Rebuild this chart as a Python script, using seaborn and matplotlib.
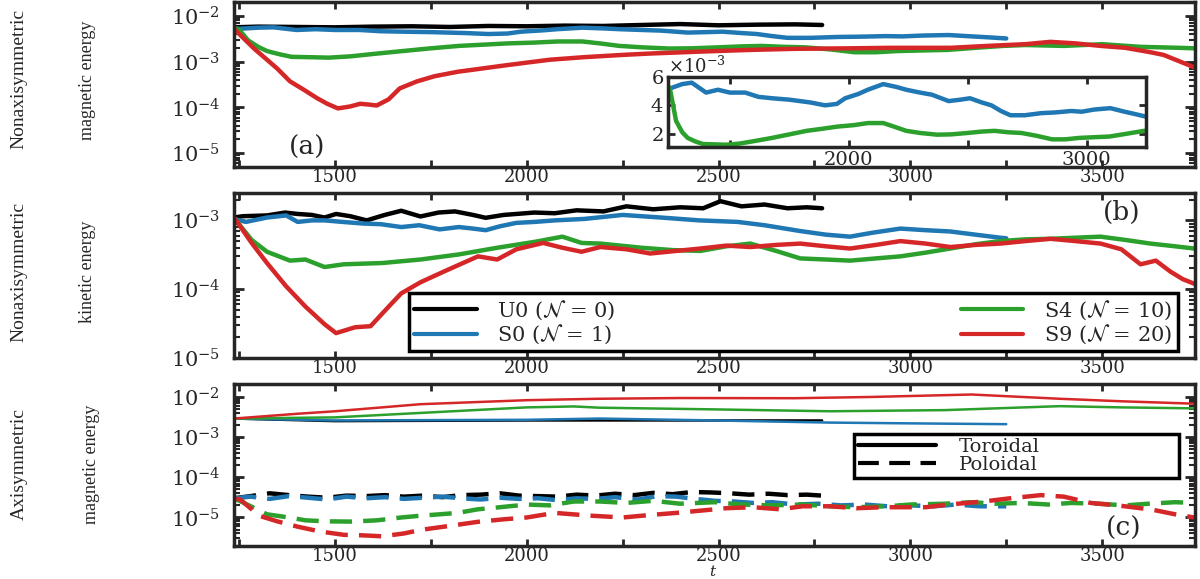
import numpy as np
import pandas as pd
import matplotlib
matplotlib.use("Agg")
import matplotlib.pyplot as plt
import matplotlib.ticker as mticker
from matplotlib.lines import Line2D
import seaborn as sns

# ---- values ----
# (a) nonaxisymmetric magnetic energy, units of 1e-3
t_a_u0 = [1237, 1300, 1400, 1500, 1600, 1700, 1800, 1900, 2000, 2100, 2200, 2300, 2400, 2500, 2600, 2700, 2770]
e_a_u0 = [5.6, 5.8, 5.7, 5.6, 5.8, 5.9, 5.7, 6.0, 5.9, 6.1, 6.0, 6.3, 6.6, 6.2, 6.4, 6.5, 6.3]
t_a_s0 = [1237, 1250, 1300, 1340, 1400, 1450, 1500, 1565, 1620, 1677, 1750, 1840, 1900, 1950, 1985, 2040, 2080,
          2145, 2200, 2242, 2300, 2350, 2420, 2470, 2510, 2560, 2600, 2640, 2680, 2740, 2810, 2870, 2935, 2980,
          3030, 3100, 3160, 3200, 3250]
e_a_s0 = [5.3, 5.2, 5.5, 5.6, 4.9, 5.1, 4.9, 4.9, 4.6, 4.5, 4.4, 4.2, 4.0, 4.1, 4.5, 4.8, 5.1,
          5.5, 5.3, 5.1, 4.9, 4.75, 4.3, 4.4, 4.5, 4.2, 4.0, 3.6, 3.3, 3.3, 3.45, 3.5, 3.6, 3.55,
          3.7, 3.8, 3.55, 3.4, 3.2]
t_a_s4 = [1237, 1250, 1274, 1300, 1323, 1355, 1387, 1430, 1484, 1540, 1597, 1677, 1750, 1823, 1890, 1952, 2020,
          2081, 2145, 2190, 2242, 2300, 2371, 2430, 2500, 2560, 2613, 2670, 2726, 2790, 2855, 2910, 2968, 3030,
          3097, 3170, 3242, 3300, 3400, 3500, 3600, 3700, 3740]
e_a_s4 = [5.5, 5.0, 2.9, 2.1, 1.7, 1.45, 1.27, 1.25, 1.22, 1.3, 1.46, 1.7, 1.95, 2.2, 2.35, 2.5, 2.6,
          2.75, 2.75, 2.5, 2.2, 2.05, 1.93, 1.95, 2.05, 2.15, 2.2, 2.1, 2.05, 1.85, 1.6, 1.6, 1.7, 1.75,
          1.8, 2.0, 2.2, 2.3, 2.2, 2.4, 2.1, 2.0, 1.95]
t_a_s9 = [1237, 1252, 1290, 1323, 1350, 1383, 1420, 1453, 1480, 1508, 1540, 1566, 1590, 1609, 1640, 1669, 1714,
          1760, 1820, 1880, 1931, 2000, 2061, 2150, 2250, 2322, 2450, 2583, 2700, 2844, 2950, 3105, 3200, 3300,
          3365, 3430, 3496, 3560, 3626, 3660, 3691, 3740]
e_a_s9 = [5.2, 3.9, 1.9, 1.1, 0.7, 0.37, 0.24, 0.16, 0.12, 0.095, 0.105, 0.12, 0.115, 0.11, 0.15, 0.26, 0.37,
          0.48, 0.6, 0.7, 0.8, 0.95, 1.1, 1.25, 1.4, 1.5, 1.65, 1.8, 1.9, 1.95, 2.0, 2.0, 2.2, 2.4,
          2.7, 2.5, 2.2, 2.0, 1.6, 1.4, 1.1, 0.75]

# (b) nonaxisymmetric kinetic energy, units of 1e-4
t_b_u0 = [1237, 1260, 1323, 1370, 1403, 1440, 1473, 1503, 1540, 1583, 1630, 1673, 1723, 1770, 1813, 1860, 1893,
          1940, 1973, 2020, 2073, 2130, 2200, 2260, 2330, 2400, 2460, 2505, 2560, 2620, 2680, 2730, 2770]
e_b_u0 = [11, 11.5, 11.8, 13, 12.4, 12, 11, 12.4, 11.5, 10, 12, 13.8, 11.4, 13, 13.5, 12, 10.9,
          12, 12.4, 13, 12.7, 14, 13.5, 16, 14.5, 15.5, 15, 19, 16, 17, 15, 15.5, 15]
t_b_s0 = [1237, 1268, 1323, 1373, 1403, 1440, 1473, 1520, 1573, 1620, 1673, 1720, 1773, 1823, 1860, 1893, 1930,
          1973, 2020, 2073, 2150, 2250, 2350, 2450, 2550, 2620, 2713, 2780, 2843, 2900, 2974, 3040, 3104,
          3170, 3234, 3250]
e_b_s0 = [10.5, 9.5, 11, 11.8, 9.5, 10, 10, 9.5, 9, 8.8, 8, 8.5, 7.4, 8, 7.6, 7.2, 8.2,
          9.2, 9.5, 10, 10.5, 12, 11, 10, 9.5, 8.5, 7, 6.2, 5.8, 6.6, 7.6, 7.2, 6.9,
          6.2, 5.6, 5.5]
t_b_s4 = [1237, 1260, 1283, 1323, 1383, 1423, 1473, 1523, 1623, 1723, 1823, 1923, 2023, 2093, 2143, 2192, 2300,
          2380, 2453, 2520, 2583, 2650, 2713, 2780, 2843, 2910, 2974, 3040, 3104, 3170, 3234, 3300, 3365,
          3430, 3496, 3560, 3626, 3690, 3740]
e_b_s4 = [11, 7.5, 5.2, 3.5, 2.6, 2.7, 2.1, 2.3, 2.4, 2.7, 3.2, 4.0, 4.9, 5.8, 4.7, 4.6, 4.0,
          3.7, 3.6, 4.2, 4.6, 3.6, 2.8, 2.7, 2.6, 2.8, 3.0, 3.4, 3.9, 4.5, 5.0, 5.3, 5.4,
          5.6, 5.8, 5.2, 4.6, 4.2, 3.9]
t_b_s9 = [1237, 1248, 1283, 1323, 1373, 1423, 1473, 1503, 1553, 1593, 1643, 1673, 1723, 1793, 1873, 1923, 1973,
          2043, 2093, 2143, 2192, 2260, 2322, 2390, 2453, 2520, 2583, 2650, 2713, 2780, 2843, 2910, 2974,
          3040, 3104, 3170, 3234, 3300, 3365, 3430, 3496, 3550, 3600, 3640, 3678, 3710, 3740]
e_b_s9 = [11, 9, 4.7, 2.4, 1.1, 0.56, 0.31, 0.23, 0.28, 0.29, 0.58, 0.87, 1.26, 1.9, 3.0, 2.7, 3.8,
          4.7, 4.0, 3.5, 4.1, 3.8, 3.3, 3.6, 3.9, 4.3, 4.1, 4.4, 4.6, 4.2, 3.9, 4.4, 5.0,
          4.6, 4.1, 4.4, 4.6, 5.0, 5.4, 5.0, 4.6, 3.8, 2.3, 2.6, 1.8, 1.4, 1.2]

# (c) axisymmetric magnetic energy: toroidal (units 1e-3), poloidal (units 1e-5)
t_tor_u0 = [1237, 1500, 2000, 2300, 2600, 2770]
e_tor_u0 = [2.9, 2.5, 2.6, 2.6, 2.6, 2.6]
t_tor_s0 = [1237, 1500, 2000, 2190, 2490, 2790, 3000, 3250]
e_tor_s0 = [2.9, 2.6, 2.7, 2.9, 2.6, 2.3, 2.2, 2.1]
t_tor_s4 = [1237, 1500, 1723, 2000, 2123, 2190, 2490, 2790, 3090, 3390, 3550, 3740]
e_tor_s4 = [2.9, 3.1, 4.0, 5.5, 5.8, 5.4, 4.9, 4.4, 4.7, 5.9, 5.5, 5.2]
t_tor_s9 = [1237, 1400, 1500, 1723, 2000, 2183, 2400, 2700, 2900, 3160, 3390, 3550, 3740]
e_tor_s9 = [2.9, 3.8, 4.4, 6.6, 8.3, 9.0, 9.4, 9.3, 10.0, 11.5, 9.0, 7.8, 6.8]

t_pol_u0 = [1237, 1280, 1330, 1380, 1430, 1480, 1530, 1580, 1630, 1680, 1730, 1780, 1830, 1880, 1930, 1980,
            2030, 2080, 2130, 2180, 2230, 2280, 2330, 2380, 2430, 2480, 2530, 2580, 2630, 2680, 2730, 2770]
e_pol_u0 = [3.0, 3.4, 4.0, 3.6, 3.3, 3.1, 3.5, 3.4, 3.6, 3.3, 3.5, 3.2, 3.6, 3.7, 4.0, 3.5,
            3.4, 3.3, 3.7, 3.5, 3.9, 3.6, 4.1, 3.8, 4.3, 4.2, 4.0, 3.7, 3.9, 3.6, 3.7, 3.5]
t_pol_s0 = [1237, 1280, 1330, 1380, 1430, 1480, 1530, 1580, 1630, 1680, 1730, 1780, 1830, 1880, 1930, 1980,
            2030, 2080, 2130, 2180, 2230, 2290, 2340, 2390, 2440, 2490, 2540, 2590, 2640, 2700, 2760, 2820,
            2880, 2940, 3000, 3060, 3120, 3180, 3250]
e_pol_s0 = [3.0, 3.3, 2.9, 3.4, 3.1, 2.8, 3.3, 3.0, 3.2, 2.9, 3.1, 3.3, 3.0, 2.8, 3.1, 2.9,
            3.0, 2.7, 3.0, 2.9, 3.2, 2.8, 3.4, 3.3, 2.9, 2.6, 2.5, 2.3, 2.4, 2.1, 2.2, 2.0,
            2.1, 1.9, 2.0, 1.9, 2.1, 1.9, 1.9]
t_pol_s4 = [1237, 1263, 1323, 1380, 1423, 1480, 1543, 1610, 1673, 1720, 1773, 1820, 1873, 1930, 2000, 2060,
            2123, 2190, 2260, 2330, 2400, 2490, 2560, 2640, 2720, 2790, 2860, 2940, 3000, 3090, 3160, 3220,
            3290, 3360, 3420, 3490, 3560, 3620, 3690, 3740]
e_pol_s4 = [3.0, 2.3, 1.2, 1.0, 0.85, 0.8, 0.79, 0.85, 1.0, 1.1, 1.2, 1.3, 1.6, 1.8, 2.1, 2.0,
            2.5, 2.5, 2.3, 2.6, 2.2, 2.4, 2.1, 2.0, 2.1, 1.9, 1.8, 1.9, 2.1, 2.2, 2.4, 2.2,
            2.3, 2.1, 2.3, 2.2, 2.0, 2.2, 2.4, 2.3]
t_pol_s9 = [1237, 1253, 1303, 1350, 1403, 1460, 1523, 1570, 1623, 1680, 1723, 1800, 1873, 1940, 2000, 2073,
            2120, 2173, 2250, 2320, 2390, 2460, 2520, 2590, 2660, 2720, 2790, 2860, 2930, 3040, 3100, 3190,
            3260, 3340, 3400, 3470, 3540, 3600, 3640, 3690, 3740]
e_pol_s9 = [3.0, 2.8, 1.1, 0.8, 0.59, 0.45, 0.37, 0.36, 0.34, 0.4, 0.49, 0.62, 0.78, 0.9, 1.0, 1.3,
            1.2, 1.1, 1.0, 1.15, 1.3, 1.5, 1.7, 1.8, 1.6, 1.9, 1.9, 1.7, 1.8, 1.8, 2.1, 2.5,
            3.0, 3.6, 3.3, 2.3, 2.0, 1.7, 1.5, 1.2, 1.0]

run_labels = [r"U0 ($\mathcal{N}$ = 0)", r"S0 ($\mathcal{N}$ = 1)",
              r"S4 ($\mathcal{N}$ = 10)", r"S9 ($\mathcal{N}$ = 20)"]
run_colors = ["black", "#1f77b4", "#2ca02c", "#d62728"]

# ---- style ----
sns.set_style("ticks")
plt.rcParams["font.family"] = ["DejaVu Serif"]
plt.rcParams["mathtext.fontset"] = "dejavuserif"

fig = plt.figure(figsize=(12, 5.79), dpi=100)
L, W = 234 / 1200, 961 / 1200
ax_a = fig.add_axes([L, 1 - 167 / 579, W, 165 / 579])
ax_b = fig.add_axes([L, 1 - 358 / 579, W, 165 / 579])
ax_c = fig.add_axes([L, 1 - 546 / 579, W, 162 / 579])


def style_ax(ax, ylim):
    ax.set_yscale("log")
    ax.set_xlim(1237, 3742)
    ax.set_ylim(*ylim)
    ax.xaxis.set_major_locator(mticker.MultipleLocator(500))
    ax.xaxis.set_minor_locator(mticker.MultipleLocator(250))
    ax.yaxis.set_major_locator(mticker.LogLocator(base=10, numticks=10))
    ax.yaxis.set_minor_locator(mticker.LogLocator(base=10, subs=np.arange(2, 10), numticks=20))
    ax.yaxis.set_minor_formatter(mticker.NullFormatter())
    ax.tick_params(which="both", direction="in", top=True, right=True, width=2)
    ax.tick_params(axis="x", which="both", length=5, labelsize=13, pad=1)
    ax.tick_params(axis="y", which="major", length=7, labelsize=15, pad=10)
    ax.tick_params(axis="y", which="minor", length=4, width=1.5)
    for s in ax.spines.values():
        s.set_linewidth(2.5)
    ax.set_xlabel("")
    ax.set_ylabel("")


def draw(ax, t, e, scale, color, lw, ls="-"):
    df = pd.DataFrame({"t": t, "e": np.array(e) * scale})
    sns.lineplot(data=df, x="t", y="e", ax=ax, color=color, lw=lw, linestyle=ls,
                 estimator=None, sort=False)


# panel (a)
for t, e, c in zip([t_a_u0, t_a_s0, t_a_s4, t_a_s9], [e_a_u0, e_a_s0, e_a_s4, e_a_s9], run_colors):
    draw(ax_a, t, e, 1e-3, c, 3.2)
style_ax(ax_a, (5.0e-6, 2.0e-2))
ax_a.text(0.076, 0.12, "(a)", transform=ax_a.transAxes, fontsize=19, ha="center", va="center")

# inset of (a), linear scale
ax_in = fig.add_axes([668 / 1200, 1 - 147 / 579, 478 / 1200, 70 / 579])
draw(ax_in, t_a_s0, e_a_s0, 1e-3, run_colors[1], 3.2)
draw(ax_in, t_a_s4, e_a_s4, 1e-3, run_colors[2], 3.2)
ax_in.set_xlim(1240, 3250)
ax_in.set_ylim(1.06e-3, 6.0e-3)
ax_in.xaxis.set_major_locator(mticker.MultipleLocator(1000))
ax_in.xaxis.set_minor_locator(mticker.MultipleLocator(500))
ax_in.yaxis.set_major_locator(mticker.MultipleLocator(2e-3))
ax_in.ticklabel_format(axis="y", style="sci", scilimits=(0, 0), useMathText=True)
ax_in.yaxis.get_offset_text().set_fontsize(13)
ax_in.tick_params(which="both", direction="in", top=True, right=True, width=2, length=5, labelsize=14, pad=3)
for s in ax_in.spines.values():
    s.set_linewidth(2.5)
ax_in.set_xlabel("")
ax_in.set_ylabel("")

# panel (b)
for t, e, c in zip([t_b_u0, t_b_s0, t_b_s4, t_b_s9], [e_b_u0, e_b_s0, e_b_s4, e_b_s9], run_colors):
    draw(ax_b, t, e, 1e-4, c, 3.2)
style_ax(ax_b, (1.0e-5, 2.5e-3))
ax_b.text(0.924, 0.88, "(b)", transform=ax_b.transAxes, fontsize=19, ha="center", va="center")
run_handles = [Line2D([], [], color=c, lw=3) for c in run_colors]
ax_b.legend(run_handles, run_labels, ncol=2, loc="lower left",
            bbox_to_anchor=(0.182, 0.04, 0.8, 0.29), mode="expand", borderaxespad=0,
            fontsize=15, handlelength=3.0, handletextpad=1.0, columnspacing=2.5,
            labelspacing=0.05, borderpad=0.25, frameon=True, fancybox=False,
            edgecolor="black", framealpha=1).get_frame().set_linewidth(2.5)

# panel (c)
for t, e, c in zip([t_tor_u0, t_tor_s0, t_tor_s4, t_tor_s9], [e_tor_u0, e_tor_s0, e_tor_s4, e_tor_s9], run_colors):
    draw(ax_c, t, e, 1e-3, c, 1.8)
for t, e, c in zip([t_pol_u0, t_pol_s0, t_pol_s4, t_pol_s9], [e_pol_u0, e_pol_s0, e_pol_s4, e_pol_s9], run_colors):
    draw(ax_c, t, e, 1e-5, c, 3.2, ls=(0, (5, 2.5)))
style_ax(ax_c, (1.95e-6, 2.1e-2))
ax_c.text(0.926, 0.11, "(c)", transform=ax_c.transAxes, fontsize=19, ha="center", va="center")
style_handles = [Line2D([], [], color="black", lw=3),
                 Line2D([], [], color="black", lw=3, linestyle=(0, (5, 2.5)))]
ax_c.legend(style_handles, ["Toroidal", "Poloidal"], loc="lower left",
            bbox_to_anchor=(0.645, 0.42, 0.338, 0.24), mode="expand", borderaxespad=0,
            fontsize=14, handlelength=4.0, handletextpad=1.2, labelspacing=0.0,
            borderpad=0.2, frameon=True, fancybox=False, edgecolor="black",
            framealpha=1).get_frame().set_linewidth(2.5)
fig.text(713 / 1200, 1 - 571 / 579, "$t$", fontsize=11, ha="center", va="center")

# two-line y labels
ylab = dict(rotation=90, ha="center", va="center", family="Liberation Serif")
fig.text(19 / 1200, 1 - 79 / 579, "Nonaxisymmetric", fontsize=14, **ylab)
fig.text(88 / 1200, 1 - 80 / 579, "magnetic energy", fontsize=13, **ylab)
fig.text(19 / 1200, 1 - 272 / 579, "Nonaxisymmetric", fontsize=14, **ylab)
fig.text(88 / 1200, 1 - 272 / 579, "kinetic energy", fontsize=13, **ylab)
fig.text(19 / 1200, 1 - 464 / 579, "Axisymmetric", fontsize=14, **ylab)
fig.text(92 / 1200, 1 - 464 / 579, "magnetic energy", fontsize=13, **ylab)

fig.savefig("out.png", dpi=100)
